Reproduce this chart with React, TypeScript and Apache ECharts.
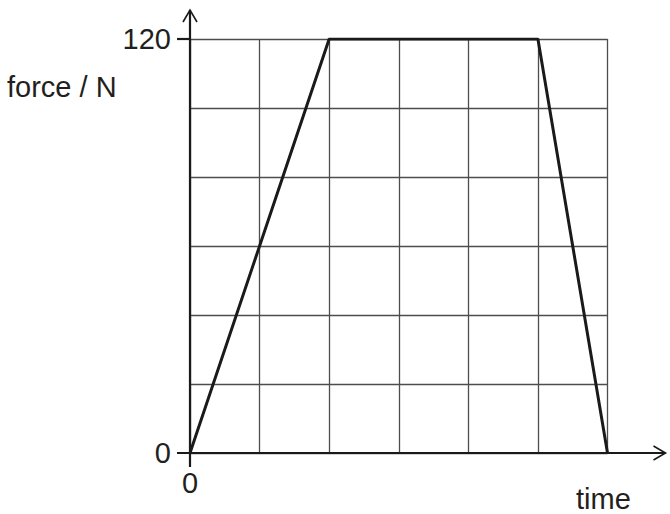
import React, { useEffect, useRef } from "react";
import * as echarts from "echarts";

// time in grid units, force in N
const times = [0, 2, 5, 6];
const forces = [0, 120, 120, 0];
const xTicks = [0];
const yTicks = [0, 120];

const FONT = "'Liberation Sans', Arial, Helvetica, sans-serif";
const FS = 29;

const App = () => {
  const chartRef = useRef<HTMLDivElement>(null);

  useEffect(() => {
    if (!chartRef.current) return;
    const chart = echarts.init(chartRef.current, null, { renderer: "svg" });

    chart.setOption({
      animation: false,
      grid: { left: 190, right: 62.5, top: 39, bottom: 61 },
      xAxis: {
        type: "value",
        min: 0,
        max: 6,
        interval: 1,
        axisLine: { show: false },
        axisTick: { show: false },
        axisLabel: {
          margin: 15,
          fontSize: FS,
          fontFamily: FONT,
          color: "#231f20",
          formatter: (v: number) => (xTicks.includes(v) ? String(v) : ""),
        },
        splitLine: { show: true, lineStyle: { color: "#4d4d4d", width: 1.3 } },
      },
      yAxis: {
        type: "value",
        min: 0,
        max: 120,
        interval: 20,
        axisLine: { show: false },
        axisTick: { show: false },
        axisLabel: {
          margin: 19,
          fontSize: FS,
          fontFamily: FONT,
          color: "#231f20",
          formatter: (v: number) => (yTicks.includes(v) ? String(v) : ""),
        },
        splitLine: { show: true, lineStyle: { color: "#4d4d4d", width: 1.3 } },
      },
      series: [
        {
          type: "line",
          data: times.map((t, i) => [t, forces[i]]),
          symbol: "none",
          lineStyle: { color: "#1a1a1a", width: 3 },
          z: 5,
        },
      ],
    });

    const o = chart.convertToPixel({ gridIndex: 0 }, [0, 0]) as number[];
    const top = chart.convertToPixel({ gridIndex: 0 }, [0, yTicks[yTicks.length - 1]]) as number[];
    const right = chart.convertToPixel({ gridIndex: 0 }, [times[times.length - 1], 0]) as number[];
    const axisStyle = { stroke: "#1a1a1a", lineWidth: 2.2 };
    const arrow = 7;
    const xEnd = right[0] + 58;
    const yEnd = top[1] - 29;

    chart.setOption({
      graphic: [
        { type: "line", z: 10, shape: { x1: o[0] - 13, y1: o[1], x2: xEnd, y2: o[1] }, style: axisStyle },
        { type: "line", z: 10, shape: { x1: o[0], y1: o[1] + 14, x2: o[0], y2: yEnd }, style: axisStyle },
        { type: "line", z: 10, shape: { x1: o[0] - 13, y1: top[1], x2: o[0], y2: top[1] }, style: axisStyle },
        {
          type: "polyline",
          z: 10,
          shape: { points: [[xEnd - 12, o[1] - arrow], [xEnd, o[1]], [xEnd - 12, o[1] + arrow]] },
          style: { ...axisStyle, fill: "none", lineWidth: 1.6 },
        },
        {
          type: "polyline",
          z: 10,
          shape: { points: [[o[0] - arrow, yEnd + 12], [o[0], yEnd], [o[0] + arrow, yEnd + 12]] },
          style: { ...axisStyle, fill: "none", lineWidth: 1.6 },
        },
        {
          type: "text",
          left: 7,
          top: 72,
          style: { text: "force / N", fontSize: FS, fontFamily: FONT, fill: "#231f20" },
        },
        {
          type: "text",
          left: 576,
          top: 484,
          style: { text: "time", fontSize: FS, fontFamily: FONT, fill: "#231f20" },
        },
      ],
    });

    return () => {
      chart.dispose();
    };
  }, []);

  return (
    <div
      ref={chartRef}
      style={{ position: "absolute", left: 0, top: 0, width: 670, height: 514, background: "#fff" }}
    ></div>
  );
};

export default App;
